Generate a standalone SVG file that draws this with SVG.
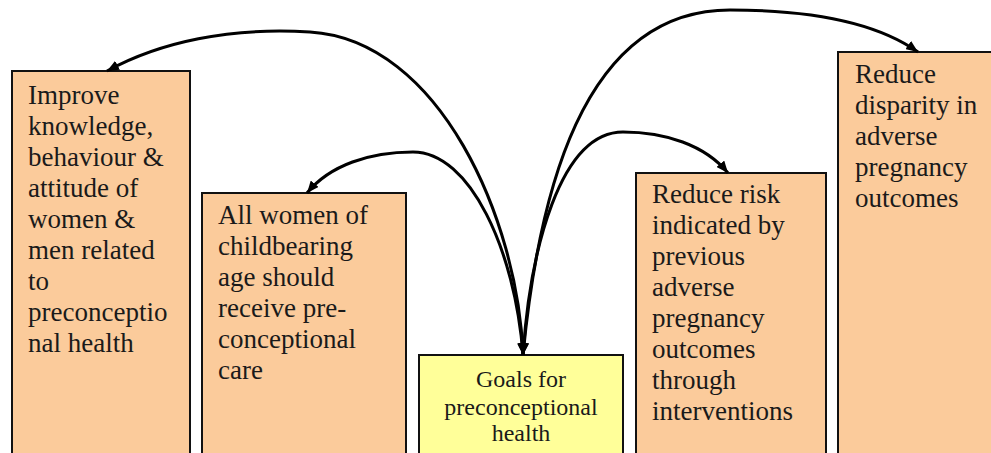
<svg xmlns="http://www.w3.org/2000/svg" width="991" height="453" viewBox="0 0 991 453">
<style>
.box{fill:#FBCB9B;stroke:#111;stroke-width:2}
.goal{fill:#FFFF99;stroke:#111;stroke-width:2}
.t{font-family:"Liberation Serif","Times New Roman",serif;font-size:27px;fill:#1a1a1a}
.g{font-family:"Liberation Serif","Times New Roman",serif;font-size:24px;fill:#1a1a1a;text-anchor:middle}
.c{fill:none;stroke:#000;stroke-width:3;marker-end:url(#ah);marker-start:url(#ah)}
</style>
<defs>
<marker id="ah" viewBox="0 0 12 10" refX="12" refY="5" markerWidth="12" markerHeight="10" markerUnits="userSpaceOnUse" orient="auto-start-reverse">
<path d="M0,0 L12,5 L0,10 z" fill="#000"/>
</marker>
</defs>
<rect width="991" height="453" fill="#fff"/>
<g id="n1">
<rect class="box" x="12" y="71" width="178" height="400"/>
<text class="t" x="28" y="104">Improve</text>
<text class="t" x="28" y="135">knowledge,</text>
<text class="t" x="28" y="166">behaviour &amp;</text>
<text class="t" x="28" y="197">attitude of</text>
<text class="t" x="28" y="228">women &amp;</text>
<text class="t" x="28" y="259">men related</text>
<text class="t" x="28" y="290">to</text>
<text class="t" x="28" y="321">preconceptio</text>
<text class="t" x="28" y="352">nal health</text>
</g>
<g id="n2">
<rect class="box" x="202" y="193" width="204" height="300"/>
<text class="t" x="218" y="224">All women of</text>
<text class="t" x="218" y="255">childbearing</text>
<text class="t" x="218" y="286">age should</text>
<text class="t" x="218" y="317">receive pre-</text>
<text class="t" x="218" y="348">conceptional</text>
<text class="t" x="218" y="379">care</text>
</g>
<g id="n3">
<rect class="goal" x="419" y="355" width="204" height="120"/>
<text class="g" x="521" y="387">Goals for</text>
<text class="g" x="521" y="415">preconceptional</text>
<text class="g" x="521" y="441">health</text>
</g>
<g id="n4">
<rect class="box" x="636" y="173" width="190" height="300"/>
<text class="t" x="652" y="203">Reduce risk</text>
<text class="t" x="652" y="234">indicated by</text>
<text class="t" x="652" y="265">previous</text>
<text class="t" x="652" y="296">adverse</text>
<text class="t" x="652" y="327">pregnancy</text>
<text class="t" x="652" y="358">outcomes</text>
<text class="t" x="652" y="389">through</text>
<text class="t" x="652" y="420">interventions</text>
</g>
<g id="n5">
<rect class="box" x="838" y="52" width="160" height="420"/>
<text class="t" x="855" y="83">Reduce</text>
<text class="t" x="855" y="114">disparity in</text>
<text class="t" x="855" y="145">adverse</text>
<text class="t" x="855" y="176">pregnancy</text>
<text class="t" x="855" y="207">outcomes</text>
</g>
<g id="connectors">
<path class="c" d="M523,355 C518,220 440,40 310,32 C230,27 160,42 107,71"/>
<path class="c" d="M523,355 C515,250 470,152 413,152 C370,152 330,165 307,193"/>
<path class="c" d="M523,355 C530,250 560,132 623,132 C665,132 705,145 728,173"/>
<path class="c" d="M523,355 C538,200 580,10 730,10 C820,10 880,25 918,52"/>
</g>
</svg>
